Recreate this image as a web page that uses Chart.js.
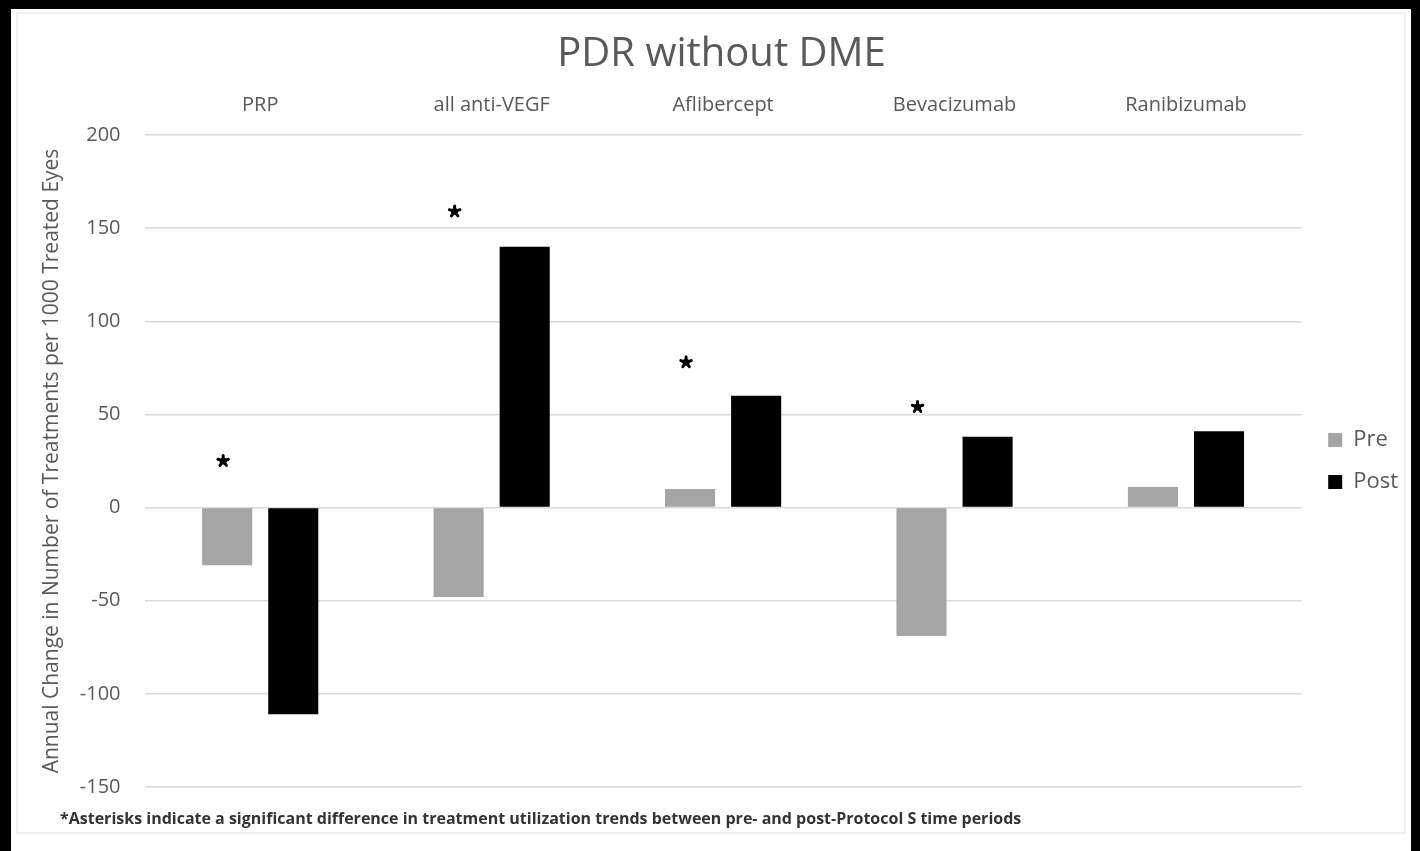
<!DOCTYPE html>
<html><head><meta charset="utf-8">
<script src="https://cdn.jsdelivr.net/npm/chart.js@4"></script>
<style>
html,body{margin:0;padding:0;background:#000;width:1420px;height:851px;overflow:hidden}
#wrap{position:absolute;left:11px;top:9px;width:1400px;height:842px;background:#fff}
#frame{position:absolute;left:5px;top:3px;width:1390px;height:822px;border:2px solid #efefef;box-sizing:border-box}
canvas{position:absolute;left:0;top:0}
</style></head>
<body><div id="wrap"><div id="frame"></div><canvas id="c" width="1400" height="842"></canvas></div>
<script>
const categories = ['PRP', 'all anti-VEGF', 'Aflibercept', 'Bevacizumab', 'Ranibizumab'];
const preValues = [-31, -48, 10, -69, 11];
const postValues = [-111, 140, 60, 38, 41];
const starValues = [25, 159, 78, 54, null];
const yMin = -150, yMax = 200, yStep = 50;
const chartTitle = 'PDR without DME';
const yTitle = 'Annual Change in Number of Treatments per 1000 Treated Eyes';
const footnote = '*Asterisks indicate a significant difference in treatment utilization trends between pre- and post-Protocol S time periods';

const FONT = '"Open Sans", sans-serif';
const GREY = '#595959';

const extras = {
  id: 'extras',
  afterDatasetsDraw(chart) {
    const ctx = chart.ctx;
    const meta = chart.getDatasetMeta(0);
    const ys = chart.scales.y;
    ctx.save();
    ctx.strokeStyle = '#000';
    ctx.fillStyle = '#000';
    ctx.lineWidth = 3;
    ctx.lineCap = 'round';
    starValues.forEach((v, i) => {
      if (v === null) return;
      const x = meta.data[i].x - 4;
      const y = ys.getPixelForValue(v);
      const r = 5.5;
      for (let k = 0; k < 5; k++) {
        const a = -Math.PI / 2 + k * 2 * Math.PI / 5;
        ctx.beginPath();
        ctx.moveTo(x, y);
        ctx.lineTo(x + r * Math.cos(a), y + r * Math.sin(a));
        ctx.stroke();
      }
      ctx.beginPath();
      ctx.arc(x, y, 3.5, 0, Math.PI * 2);
      ctx.fill();
    });
    ctx.restore();
  },
  afterDraw(chart) {
    const ctx = chart.ctx;
    ctx.save();
    ctx.font = 'bold 16px ' + FONT;
    ctx.fillStyle = '#333';
    ctx.textBaseline = 'middle';
    ctx.fillText(footnote, 49, 810);
    ctx.restore();
  }
};

new Chart(document.getElementById('c'), {
  type: 'bar',
  data: {
    labels: categories,
    datasets: [
      { label: 'Pre', data: preValues, backgroundColor: '#a5a5a5', categoryPercentage: 0.571, barPercentage: 0.758 },
      { label: 'Post', data: postValues, backgroundColor: '#000000', categoryPercentage: 0.571, barPercentage: 0.758 }
    ]
  },
  options: {
    responsive: false,
    animation: false,
    layout: { padding: { left: 24, right: 3, top: 0, bottom: 64 } },
    plugins: {
      title: { display: true, text: chartTitle, color: GREY, font: { family: FONT, size: 40, weight: 'normal' }, padding: { top: 22, bottom: 0 } },
      legend: {
        position: 'right', fullSize: false,
        labels: { boxWidth: 14, boxHeight: 14, padding: 20, color: GREY, font: { family: FONT, size: 22 } }
      },
      tooltip: { enabled: false }
    },
    scales: {
      x: {
        position: 'top',
        grid: { display: false },
        border: { display: false },
        ticks: { color: GREY, font: { family: FONT, size: 20 }, padding: 10 },
        afterFit: s => { s.height = 56; }
      },
      y: {
        min: yMin, max: yMax,
        ticks: { stepSize: yStep, color: GREY, font: { family: FONT, size: 20 }, padding: 24 },
        grid: { color: '#d9d9d9', lineWidth: 1.5, drawTicks: false },
        border: { display: false },
        title: { display: true, text: yTitle, color: GREY, font: { family: FONT, size: 21 } },
        afterFit: s => { s.width = 109.5; }
      },
      y2: {
        position: 'right', display: true,
        grid: { display: false }, border: { display: false },
        ticks: { display: false },
        afterFit: s => { s.width = 6.5; }
      }
    }
  },
  plugins: [extras]
});
</script>
</body></html>
